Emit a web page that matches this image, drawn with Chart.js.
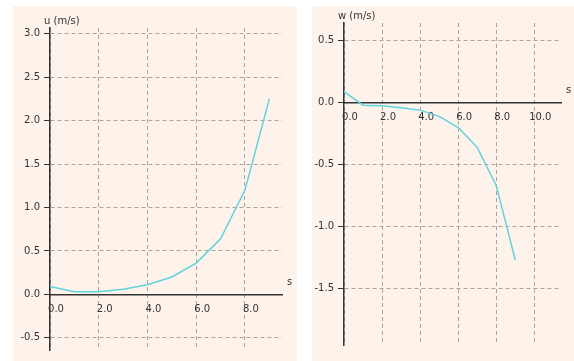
<!DOCTYPE html>
<html>
<head>
<meta charset="utf-8">
<script src="https://cdn.jsdelivr.net/npm/chart.js@4/dist/chart.umd.min.js"></script>
<style>
  body { margin: 0; background: #fff; width: 574px; height: 361px; overflow: hidden; }
  .panel { position: absolute; top: 6px; height: 355px; background: #fdf3ea; }
  #pu { left: 13px; width: 284px; }
  #pw { left: 312px; width: 262px; }
</style>
</head>
<body>
<div class="panel" id="pu"><canvas id="uChart" width="284" height="355"></canvas></div>
<div class="panel" id="pw"><canvas id="wChart" width="262" height="355"></canvas></div>
<script>
// distance along s
const sVals = [0, 1, 2, 3, 4, 5, 6, 7, 8, 9];
// horizontal velocity u (m/s)
const uVals = [0.09, 0.03, 0.03, 0.06, 0.11, 0.2, 0.36, 0.64, 1.2, 2.25];
// vertical velocity w (m/s)
const wVals = [0.09, -0.02, -0.025, -0.04, -0.06, -0.11, -0.2, -0.36, -0.67, -1.27];

const uYTicks = [-0.5, 0, 0.5, 1.0, 1.5, 2.0, 2.5, 3.0];
const uXTicks = [0, 2, 4, 6, 8];
const wYTicks = [-1.5, -1.0, -0.5, 0, 0.5];
const wXTicks = [0, 2, 4, 6, 8, 10];

Chart.defaults.font.family = '"DejaVu Sans", Verdana, sans-serif';
Chart.defaults.font.size = 10;
Chart.defaults.color = '#333';

const LINE = '#5fd4dc';
const GRID = '#aaa49e';
const AXIS = '#333';

// axis names drawn at the ends of the axes
const axisNames = {
    id: 'axisNames',
    afterDraw(chart, args, opts) {
        const ctx = chart.ctx;
        const area = chart.chartArea;
        const y0 = chart.scales.y.getPixelForValue(0);
        ctx.save();
        ctx.font = '10px "DejaVu Sans", Verdana, sans-serif';
        ctx.fillStyle = '#333';
        ctx.textBaseline = 'middle';
        ctx.textAlign = 'left';
        ctx.fillText(opts.yName, area.left - 6, area.top - 7);
        ctx.fillText(opts.xName, area.right + 5, y0 - 12);
        ctx.restore();
    }
};

function makeChart(id, values, xMax, yMin, yMax, xTicks, yTicks, yName, pad) {
    const ctx = document.getElementById(id).getContext('2d');
    return new Chart(ctx, {
        type: 'line',
        data: {
            datasets: [{
                data: sVals.map((s, i) => ({ x: s, y: values[i] })),
                borderColor: LINE,
                borderWidth: 1.5,
                pointRadius: 0,
                tension: 0,
                fill: false
            }]
        },
        options: {
            responsive: false,
            animation: false,
            layout: { padding: pad },
            plugins: {
                legend: { display: false },
                tooltip: { enabled: false },
                axisNames: { xName: 's', yName: yName }
            },
            scales: {
                x: {
                    type: 'linear',
                    min: 0,
                    max: xMax,
                    position: { y: 0 },
                    afterFit: s => { s.height = 0; },
                    afterBuildTicks: s => { s.ticks = xTicks.map(v => ({ value: v })); },
                    grid: { color: GRID, lineWidth: 1, drawTicks: false },
                    border: { display: true, color: AXIS, width: 1.5, dash: [4, 3] },
                    ticks: {
                        padding: 9,
                        labelOffset: 6,
                        maxRotation: 0,
                        callback: v => v.toFixed(1)
                    }
                },
                y: {
                    type: 'linear',
                    min: yMin,
                    max: yMax,
                    position: 'left',
                    afterFit: s => { s.width = pad.yWidth; },
                    afterBuildTicks: s => { s.ticks = yTicks.map(v => ({ value: v })); },
                    grid: { color: GRID, lineWidth: 1, tickLength: 6, tickColor: AXIS, tickWidth: 1, tickBorderDash: [] },
                    border: { display: true, color: AXIS, width: 1.5, dash: [4, 3] },
                    ticks: {
                        padding: 4,
                        callback: v => v.toFixed(1)
                    }
                }
            }
        },
        plugins: [axisNames]
    });
}

makeChart('uChart', uVals, 9.52, -0.64, 3.065, uXTicks, uYTicks, 'u (m/s)',
    { left: 0, top: 22, right: 15, bottom: 11, yWidth: 37 });
makeChart('wChart', wVals, 11.4, -1.955, 0.643, wXTicks, wYTicks, 'w (m/s)',
    { left: 0, top: 17, right: 13, bottom: 16, yWidth: 32 });
</script>
</body>
</html>
